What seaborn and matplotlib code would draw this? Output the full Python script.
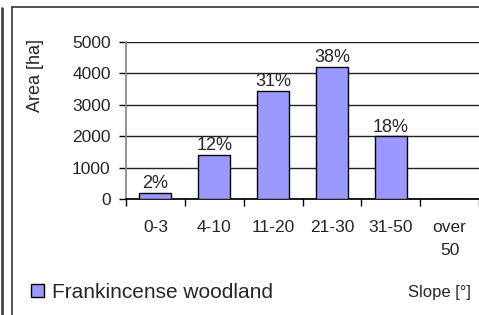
import matplotlib
matplotlib.use("Agg")
import matplotlib.pyplot as plt
from matplotlib.lines import Line2D
from matplotlib.patches import Patch
import pandas as pd
import seaborn as sns

# slope classes and woodland area
slope_classes = ["0-3", "4-10", "11-20", "21-30", "31-50", "over\n50"]
area_ha = [200, 1400, 3450, 4200, 2000, 0]
share_labels = ["2%", "12%", "31%", "38%", "18%", ""]
series_name = "Frankincense woodland"

df = pd.DataFrame({"slope": slope_classes, "area": area_ha})

sns.set_theme(style="white")
plt.rcParams["font.family"] = ["Liberation Sans", "DejaVu Sans"]

fig = plt.figure(figsize=(4.79, 3.15), dpi=100)
ax = fig.add_axes([126 / 479, 1 - 199 / 315, 353 / 479, 157 / 315])

sns.barplot(data=df, x="slope", y="area", ax=ax, color="#9999FF", saturation=1,
            width=0.545, edgecolor="black", linewidth=1, zorder=3)

ax.set_ylim(0, 5000)
ax.set_xlim(-0.5, len(slope_classes) - 0.5)
ax.set_yticks(range(0, 5001, 1000))
ax.yaxis.grid(True, color="#222222", linewidth=1)
ax.set_axisbelow(True)

# category boundaries as major ticks, names as minor ticks
ax.set_xticks([i - 0.5 for i in range(len(slope_classes) + 1)])
ax.set_xticklabels([])
ax.set_xticks(range(len(slope_classes)), minor=True)
ax.set_xticklabels(slope_classes, minor=True, fontsize=12.5, linespacing=1.7, va="top")
ax.tick_params(axis="x", which="major", direction="out", length=5, width=1, color="black", bottom=True)
ax.tick_params(axis="x", which="minor", length=0, pad=15)
ax.tick_params(axis="y", direction="out", length=5, width=1, color="black", left=True, pad=6, labelsize=12.5)

for s in ["top", "right"]:
    ax.spines[s].set_visible(False)
ax.spines["left"].set_color("#888888")
ax.spines["bottom"].set_color("black")
ax.set_xlabel("")
ax.set_ylabel("")

for i, (v, lab) in enumerate(zip(area_ha, share_labels)):
    if lab:
        ax.annotate(lab, (i, v), xytext=(0, 0.5), textcoords="offset points",
                    ha="center", va="bottom", fontsize=13)

fig.text(35 / 479, 1 - 75 / 315, "Area [ha]", rotation=90, ha="center", va="center", fontsize=13)
fig.text(439 / 479, 1 - 292 / 315, "Slope [°]", ha="center", va="center", fontsize=12)

handle = Patch(facecolor="#9999FF", edgecolor="black", linewidth=1)
fig.legend(handles=[handle], labels=[series_name], loc="center left",
           bbox_to_anchor=(31 / 479, 1 - 292 / 315), frameon=False, fontsize=15,
           borderpad=0, borderaxespad=0, handlelength=0.6, handleheight=0.6,
           handletextpad=0.4)

# frame around chart area
fig.add_artist(Line2D([11.5 / 479, 1], [1 - 6.5 / 315] * 2, color="#333333", lw=1.2))
fig.add_artist(Line2D([11.5 / 479] * 2, [0, 1 - 6.5 / 315], color="#333333", lw=1.2))
fig.add_artist(Line2D([1.5 / 479] * 2, [0, 1 - 8 / 315], color="#444444", lw=2))

fig.savefig("out.png", dpi=100)
